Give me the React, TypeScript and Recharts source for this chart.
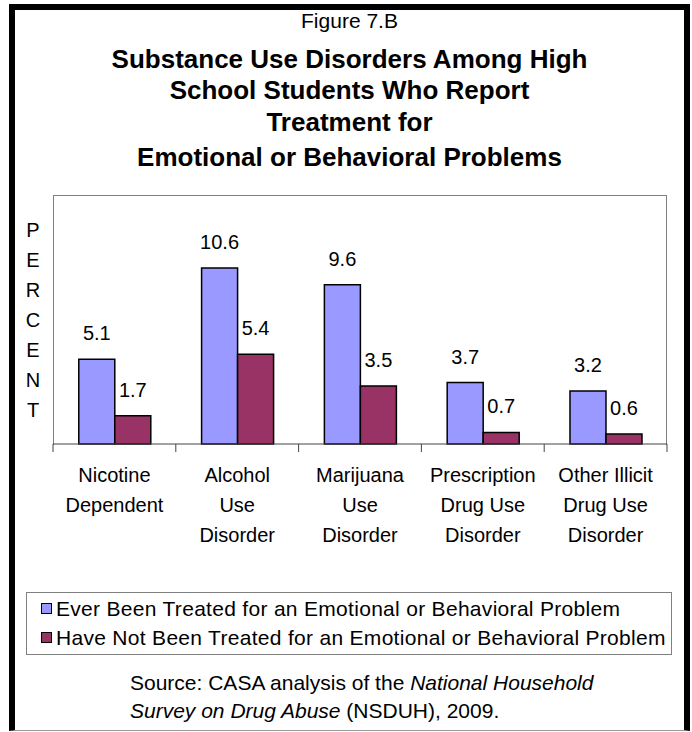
import React from 'react';
import { BarChart, Bar, XAxis, YAxis, LabelList, Legend } from 'recharts';

const categories: string[][] = [
  ['Nicotine', 'Dependent'],
  ['Alcohol', 'Use', 'Disorder'],
  ['Marijuana', 'Use', 'Disorder'],
  ['Prescription', 'Drug Use', 'Disorder'],
  ['Other Illicit', 'Drug Use', 'Disorder'],
];
const everTreated = [5.1, 10.6, 9.6, 3.7, 3.2];
const notTreated = [1.7, 5.4, 3.5, 0.7, 0.6];
const seriesNames = [
  'Ever Been Treated for an Emotional or Behavioral Problem',
  'Have Not Been Treated for an Emotional or Behavioral Problem',
];
const titleLines = [
  'Substance Use Disorders Among High',
  'School Students Who Report',
  'Treatment for',
  'Emotional or Behavioral Problems',
];
const titleY = [59, 90, 122, 157];
const yLabel = 'PERCENT';

const data = categories.map((c, i) => ({
  name: c.join('\n'),
  ever: everTreated[i],
  not: notTreated[i],
}));

const FONT = '"Liberation Sans", Arial, sans-serif';
const BLUE = '#9999FF';
const MAROON = '#993366';
const AXIS = '#444';

const CatTick = (props: any) => {
  const { x, y, payload, index, visibleTicksCount } = props;
  const lines = String(payload.value).split('\n');
  const half = payload.offset || 0;
  return (
    <g>
      <line x1={x - half} x2={x - half} y1={y} y2={y + 8} stroke={AXIS} strokeWidth={1} />
      {index === visibleTicksCount - 1 && (
        <line x1={x + half} x2={x + half} y1={y} y2={y + 8} stroke={AXIS} strokeWidth={1} />
      )}
      <text x={x} y={y} textAnchor="middle" fontFamily={FONT} fontSize={20} fill="#000">
        {lines.map((l, i) => (
          <tspan key={i} x={x} y={y + 38 + i * 30}>
            {l}
          </tspan>
        ))}
      </text>
    </g>
  );
};

const LegendBox = () => (
  <div
    style={{
      width: '100%',
      height: '100%',
      boxSizing: 'border-box',
      border: '1px solid #808080',
      background: '#fff',
      fontFamily: FONT,
      fontSize: 21,
      letterSpacing: 0.3,
      paddingTop: 1,
    }}
  >
    {seriesNames.map((n, i) => (
      <div key={i} style={{ display: 'flex', alignItems: 'center', height: 29, paddingLeft: 14 }}>
        <span
          style={{
            display: 'inline-block',
            width: 11,
            height: 11,
            boxSizing: 'border-box',
            border: '1.5px solid #000',
            background: i === 0 ? BLUE : MAROON,
            marginRight: 4,
          }}
        />
        <span style={{ whiteSpace: 'nowrap' }}>{n}</span>
      </div>
    ))}
  </div>
);

export default function App() {
  return (
    <div
      style={{
        position: 'absolute',
        left: 0,
        top: 0,
        width: 692,
        height: 732,
        background: '#fff',
        fontFamily: FONT,
        overflow: 'hidden',
      }}
    >
      <div
        style={{
          position: 'absolute',
          left: 9,
          top: 4,
          width: 681,
          height: 727,
          boxSizing: 'border-box',
          borderLeft: '6px solid #000',
          borderTop: '6px solid #000',
          borderRight: '6px solid #000',
          borderBottom: '1px solid #999',
        }}
      />
      <div
        style={{
          position: 'absolute',
          left: 53,
          top: 195,
          width: 614,
          height: 250,
          boxSizing: 'border-box',
          borderLeft: '1px solid #808080',
          borderTop: '1px solid #808080',
          borderRight: '1px solid #808080',
        }}
      />
      <div
        style={{
          position: 'absolute',
          left: 15,
          width: 669,
          top: 9,
          textAlign: 'center',
          fontSize: 21,
          lineHeight: '24px',
        }}
      >
        Figure 7.B
      </div>
      {titleLines.map((t, i) => (
        <div
          key={i}
          style={{
            position: 'absolute',
            left: 15,
            width: 669,
            top: titleY[i] - 16,
            textAlign: 'center',
            fontSize: 26,
            fontWeight: 'bold',
            lineHeight: '32px',
            whiteSpace: 'nowrap',
          }}
        >
          {t}
        </div>
      ))}
      {yLabel.split('').map((ch, i) => (
        <div
          key={i}
          style={{
            position: 'absolute',
            left: 23,
            width: 20,
            top: 218 + i * 30,
            textAlign: 'center',
            fontSize: 20,
            lineHeight: '24px',
          }}
        >
          {ch}
        </div>
      ))}
      <div
        style={{
          position: 'absolute',
          left: 130,
          top: 669,
          fontSize: 21,
          lineHeight: '28px',
          whiteSpace: 'nowrap',
        }}
      >
        <div>
          Source: CASA analysis of the <i>National Household</i>
        </div>
        <div>
          <i>Survey on Drug Abuse</i> (NSDUH), 2009.
        </div>
      </div>
      <div style={{ position: 'absolute', left: 0, top: 0 }}>
        <BarChart
          width={692}
          height={732}
          data={data}
          margin={{ top: 195, right: 25, bottom: 188, left: 53 }}
          barCategoryGap="21%"
          barGap={0}
        >
          <XAxis
            xAxisId="cat"
            dataKey="name"
            height={100}
            axisLine={{ stroke: AXIS }}
            tickLine={false}
            tickSize={0}
            tickMargin={0}
            interval={0}
            tick={<CatTick />}
          />
          <YAxis hide domain={[0, 15]} />
          <Bar
            xAxisId="cat"
            dataKey="ever"
            name={seriesNames[0]}
            fill={BLUE}
            stroke="#000"
            strokeWidth={1.5}
            isAnimationActive={false}
          >
            <LabelList dataKey="ever" position="top" offset={19} fontSize={20} fill="#000" fontFamily={FONT} />
          </Bar>
          <Bar
            xAxisId="cat"
            dataKey="not"
            name={seriesNames[1]}
            fill={MAROON}
            stroke="#000"
            strokeWidth={1.5}
            isAnimationActive={false}
          >
            <LabelList dataKey="not" position="top" offset={19} fontSize={20} fill="#000" fontFamily={FONT} />
          </Bar>
          <Legend
            layout="vertical"
            align="center"
            verticalAlign="middle"
            content={() => <LegendBox />}
            wrapperStyle={{ position: 'absolute', left: 26, top: 592, width: 646, height: 63 }}
          />
        </BarChart>
      </div>
    </div>
  );
}
